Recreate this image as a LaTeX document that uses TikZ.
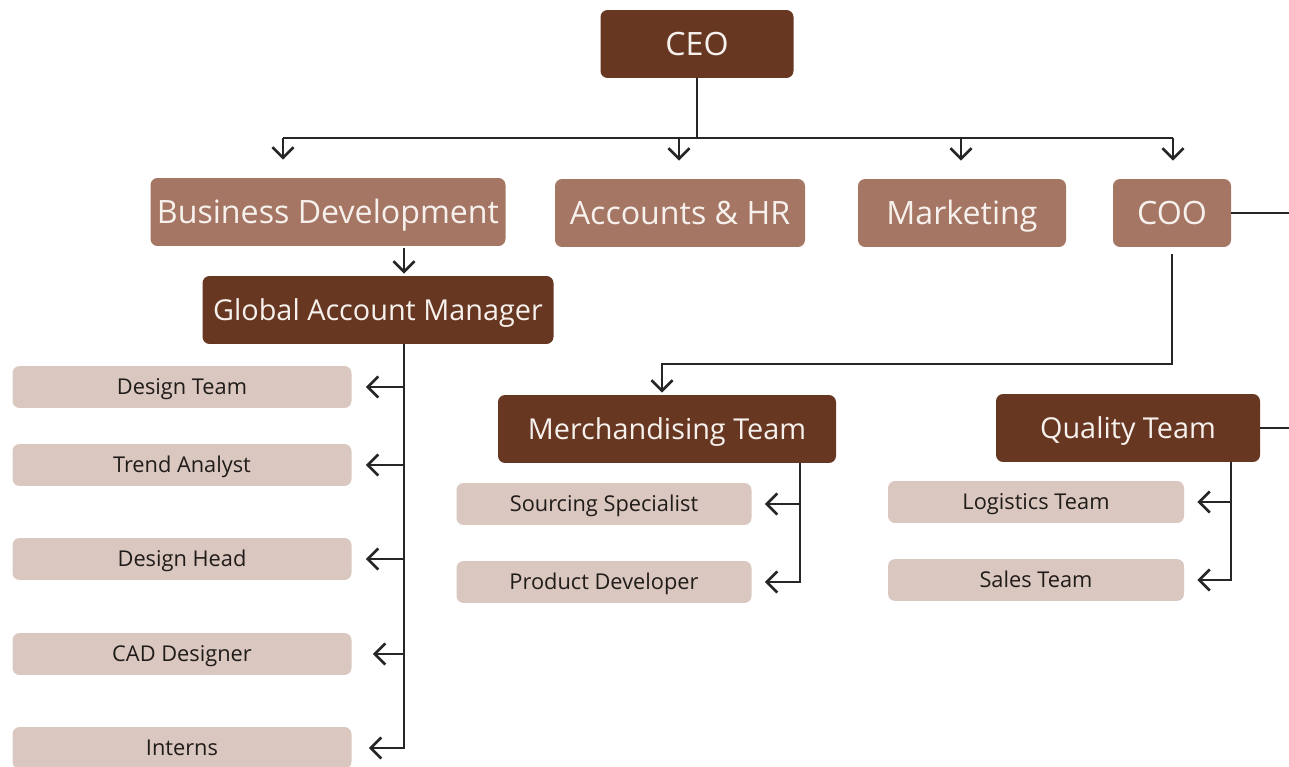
\documentclass[tikz,border=0pt]{standalone}
\usepackage{fontspec}
\setmainfont{Open Sans}
\usetikzlibrary{arrows.meta}
\definecolor{coffee}{RGB}{103, 55, 34}
\definecolor{clay}{RGB}{165, 118, 100}
\definecolor{sand}{RGB}{218, 199, 191}
\definecolor{cream}{RGB}{247, 241, 237}
\definecolor{charcoal}{RGB}{32, 28, 26}

\begin{document}
\begin{tikzpicture}[x=0.02cm, y=-0.02cm,
    boxw/.style={minimum width=#1*0.02cm},
    head/.style={fill=coffee, text=cream, rounded corners=4pt, inner sep=0pt,
                 minimum height=1.36cm, text height=11.7pt, text depth=0pt,
                 font=\fontsize{16.4}{18}\selectfont},
    dept/.style={head, fill=clay, text height=13.1pt,
                 font=\fontsize{18.3}{20}\selectfont},
    leaf/.style={fill=sand, text=charcoal, rounded corners=4pt, inner sep=0pt,
                 minimum height=0.84cm, text height=8.85pt, text depth=0pt,
                 font=\fontsize{12.4}{14}\selectfont},
    wire/.style={draw=black!85, line width=0.9pt},
    arr/.style={wire, -{Straight Barb[length=6pt, width=12pt, line width=1.5pt]}}]
    \useasboundingbox (0,0) rectangle (1289,767);

    % top levels
    \node[dept, boxw=193, fill=coffee] (ceo) at ( 697, 44) {CEO};
    \node[dept, boxw=355] (bizdev)   at ( 328,212) {Business Development};
    \node[dept, boxw=250] (acchr)    at ( 680,213) {Accounts \& HR};
    \node[dept, boxw=208] (mktg)     at ( 962,213) {Marketing};
    \node[dept, boxw=118] (coo)      at (1172,213) {COO};
    \node[head, boxw=351] (gam)      at ( 378,310) {Global Account Manager};
    \node[head, boxw=338] (merch)    at ( 667,429) {Merchandising Team};
    \node[head, boxw=264] (quality)  at (1128,428) {Quality Team};

    % teams
    \node[leaf, boxw=339] (design)   at ( 182,387) {Design Team};
    \node[leaf, boxw=339] (trend)    at ( 182,465) {Trend Analyst};
    \node[leaf, boxw=339] (dhead)    at ( 182,559) {Design Head};
    \node[leaf, boxw=339] (cad)      at ( 182,654) {CAD Designer};
    \node[leaf, boxw=339] (interns)  at ( 182,748) {Interns};
    \node[leaf, boxw=295] (sourcing) at ( 604,504) {Sourcing Specialist};
    \node[leaf, boxw=295] (product)  at ( 604,582) {Product Developer};
    \node[leaf, boxw=296] (logist)   at (1036,502) {Logistics Team};
    \node[leaf, boxw=296] (sales)    at (1036,580) {Sales Team};

    \coordinate (tapbd)  at ( 283,138);
    \coordinate (tapacc) at ( 679,138);
    \coordinate (tapmkt) at ( 961,138);
    \coordinate (tapcoo) at (1173,138);
    \coordinate (gamtrunk)   at ( 404,344);
    \coordinate (merchtrunk) at ( 800,463);
    \coordinate (qualtrunk)  at (1231,462);
    \coordinate (cooturn)    at ( 662,364);
    \coordinate (edge)       at (1289,  0);

    % ceo bus
    \draw[wire] (ceo.south) -- (ceo.south |- tapbd);
    \draw[wire] (tapbd) -- (tapcoo);
    \draw[arr, shorten >=0.36cm] (tapbd)  -- (tapbd  |- bizdev.north);
    \draw[arr, shorten >=0.36cm] (tapacc) -- (tapacc |- acchr.north);
    \draw[arr, shorten >=0.36cm] (tapmkt) -- (tapmkt |- mktg.north);
    \draw[arr, shorten >=0.36cm] (tapcoo) -- (tapcoo |- coo.north);

    % business development side
    \draw[arr, shorten <=0.04cm, shorten >=0.04cm] (bizdev.south -| gamtrunk) -- (gam.north -| gamtrunk);
    \draw[arr, shorten >=0.28cm] (design.east -| gamtrunk) -- (design.east);
    \draw[arr, shorten >=0.28cm] (trend.east  -| gamtrunk) -- (trend.east);
    \draw[arr, shorten >=0.28cm] (dhead.east  -| gamtrunk) -- (dhead.east);
    \draw[arr, shorten >=0.42cm] (cad.east    -| gamtrunk) -- (cad.east);
    \draw[arr, shorten >=0.34cm] (gamtrunk) |- (interns.east);

    % coo side
    \draw[wire] (coo.east) -- (coo.east -| edge);
    \draw[arr, shorten <=0.14cm, shorten >=0.04cm] (coo.south) |- (cooturn) -- (cooturn |- merch.north);
    \draw[arr, shorten >=0.26cm] (sourcing.east -| merchtrunk) -- (sourcing.east);
    \draw[arr, shorten >=0.26cm] (merchtrunk) |- (product.east);
    \draw[wire] (quality.east) -- (quality.east -| edge);
    \draw[arr, shorten >=0.26cm] (logist.east -| qualtrunk) -- (logist.east);
    \draw[arr, shorten >=0.26cm] (qualtrunk) |- (sales.east);
\end{tikzpicture}
\end{document}
